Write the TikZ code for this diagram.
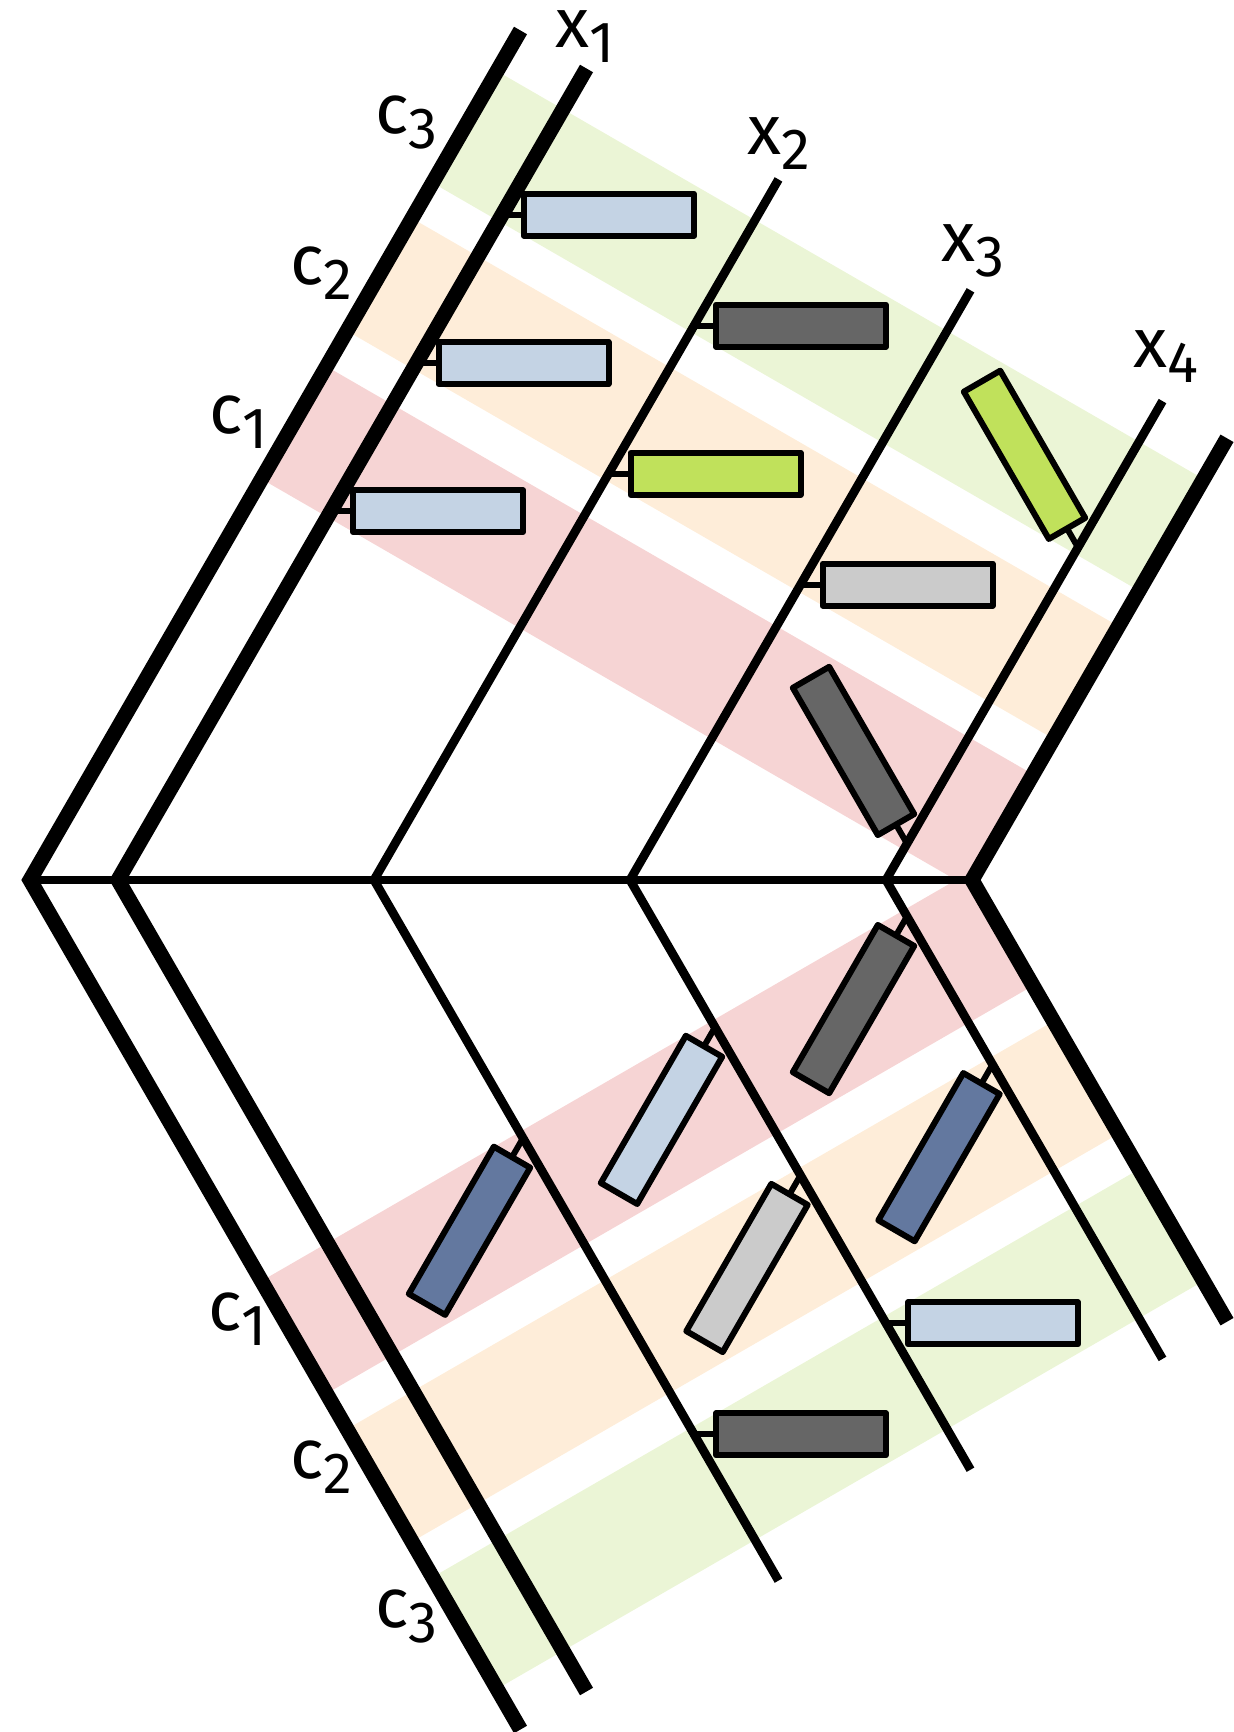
\documentclass[tikz,border=0pt]{standalone}
\usepackage{fontspec}
\setmainfont{Fira Sans}
\usetikzlibrary{calc}
\definecolor{bandR}{HTML}{F6D4D4}
\definecolor{bandO}{HTML}{FEEDD9}
\definecolor{bandG}{HTML}{EBF5D6}
\definecolor{lblue}{HTML}{C4D3E4}
\definecolor{dgray}{HTML}{666666}
\definecolor{lime}{HTML}{C0E15B}
\definecolor{lgray}{HTML}{CBCBCB}
\definecolor{dblue}{HTML}{63789F}
\newcommand\lblsub[1]{\raisebox{-7.5pt}{\fontsize{29}{29}\selectfont #1}}
\begin{document}
\begin{tikzpicture}[x=0.5pt,y=-0.5pt,
  thickarm/.style={line width=7.5pt, line join=miter, line cap=butt},
  thinarm/.style={line width=4.4pt, line join=miter, line cap=butt},
  box/.style={draw, line width=3pt, line join=round, minimum width=85pt, minimum height=21pt, inner sep=0pt, outer sep=0pt},
  stub/.style={line width=3pt},
  lbl/.style={inner sep=0pt, anchor=base west, font=\fontsize{35}{35}\selectfont}]
\useasboundingbox (0,0) rectangle (1234,1732);
% bands, upper half
\begin{scope}[shift={(30,880)}, rotate=60]
  \fill[bandR] (463,0) -- (593,0) -- (593,815.8) -- (463,815.8) -- cycle;
  \fill[bandO] (634,0) -- (764,0) -- (764,815.8) -- (634,815.8) -- cycle;
  \fill[bandG] (805,0) -- (934,0) -- (934,815.8) -- (805,815.8) -- cycle;
\end{scope}
% bands, lower half
\begin{scope}[shift={(30,880)}, rotate=-60, yscale=-1]
  \fill[bandR] (463,0) -- (593,0) -- (593,815.8) -- (463,815.8) -- cycle;
  \fill[bandO] (634,0) -- (764,0) -- (764,815.8) -- (634,815.8) -- cycle;
  \fill[bandG] (805,0) -- (934,0) -- (934,815.8) -- (805,815.8) -- cycle;
\end{scope}
% vertices
\coordinate (v0) at (30,880);
\coordinate (v1) at (118,880);
\coordinate (v2) at (374,880);
\coordinate (v3) at (630,880);
\coordinate (v4) at (886,880);
\coordinate (vR) at (972,880);
% horizontal line
\draw[thinarm] (v0) -- (vR);
% chevrons
\draw[thickarm] (520.5,30.5) -- (v0) -- (520.5,1729.5);
\draw[thickarm] (586.5,68.5) -- (v1) -- (586.5,1691.5);
\draw[thinarm] (778.5,179.4) -- (v2) -- (778.5,1580.6);
\draw[thinarm] (970.5,290.3) -- (v3) -- (970.5,1469.7);
\draw[thinarm] (1162.5,401.1) -- (v4) -- (1162.5,1358.9);
\draw[thickarm] (1227,438.3) -- (vR) -- (1227,1321.7);
% attachment points, upper half
\coordinate (u1a) at (502,214.9);
\coordinate (u1b) at (416.5,363);
\coordinate (u1c) at (331,511.1);
\coordinate (u2a) at (694,325.8);
\coordinate (u2b) at (608.5,473.8);
\coordinate (u3b) at (800.5,584.7);
\coordinate (u4a) at (1078,547.5);
\coordinate (u4c) at (907,843.6);
% attachment points, lower half
\coordinate (l2c) at (523,1138.1);
\coordinate (l2a) at (694,1434.2);
\coordinate (l3c) at (715,1027.2);
\coordinate (l3b) at (800.5,1175.3);
\coordinate (l3a) at (886,1323.4);
\coordinate (l4c) at (907,916.4);
\coordinate (l4b) at (992.5,1064.5);
% upper boxes
\node[box, fill=lblue, anchor=west] (bu1a) at ($(u1a)+(22,0)$) {};
\node[box, fill=lblue, anchor=west] (bu1b) at ($(u1b)+(22,0)$) {};
\node[box, fill=lblue, anchor=west] (bu1c) at ($(u1c)+(22,0)$) {};
\node[box, fill=dgray, anchor=west] (bu2a) at ($(u2a)+(22,0)$) {};
\node[box, fill=lime, anchor=west] (bu2b) at ($(u2b)+(22,0)$) {};
\node[box, fill=lgray, anchor=west] (bu3b) at ($(u3b)+(22,0)$) {};
\node[box, fill=lime, rotate=120, anchor=west] (bu4a) at ($(u4a)+(-11,-19.05)$) {};
\node[box, fill=dgray, rotate=120, anchor=west] (bu4c) at ($(u4c)+(-11,-19.05)$) {};
% lower boxes
\node[box, fill=dblue, rotate=240, anchor=west] (bl2c) at ($(l2c)+(-11,19.05)$) {};
\node[box, fill=dgray, anchor=west] (bl2a) at ($(l2a)+(22,0)$) {};
\node[box, fill=lblue, rotate=240, anchor=west] (bl3c) at ($(l3c)+(-11,19.05)$) {};
\node[box, fill=lgray, rotate=240, anchor=west] (bl3b) at ($(l3b)+(-11,19.05)$) {};
\node[box, fill=lblue, anchor=west] (bl3a) at ($(l3a)+(22,0)$) {};
\node[box, fill=dgray, rotate=240, anchor=west] (bl4c) at ($(l4c)+(-11,19.05)$) {};
\node[box, fill=dblue, rotate=240, anchor=west] (bl4b) at ($(l4b)+(-11,19.05)$) {};
% stubs
\foreach \a/\b in {u1a/bu1a,u1b/bu1b,u1c/bu1c,u2a/bu2a,u2b/bu2b,u3b/bu3b,u4a/bu4a,u4c/bu4c,l2c/bl2c,l2a/bl2a,l3c/bl3c,l3b/bl3b,l3a/bl3a,l4c/bl4c,l4b/bl4b}
  \draw[stub] (\a) -- (\b.west);
% labels
\node[lbl] (lx1) at (555,48) {x\lblsub{1}};
\node[lbl] (lx2) at (747,155) {x\lblsub{2}};
\node[lbl] (lx3) at (941,262) {x\lblsub{3}};
\node[lbl] (lx4) at (1133,368) {x\lblsub{4}};
\node[lbl] (lc3u) at (375,134) {c\lblsub{3}};
\node[lbl] (lc2u) at (290,285) {c\lblsub{2}};
\node[lbl] (lc1u) at (209,434) {c\lblsub{1}};
\node[lbl] (lc1l) at (208,1330) {c\lblsub{1}};
\node[lbl] (lc2l) at (290,1478) {c\lblsub{2}};
\node[lbl] (lc3l) at (375,1627) {c\lblsub{3}};
\end{tikzpicture}
\end{document}
